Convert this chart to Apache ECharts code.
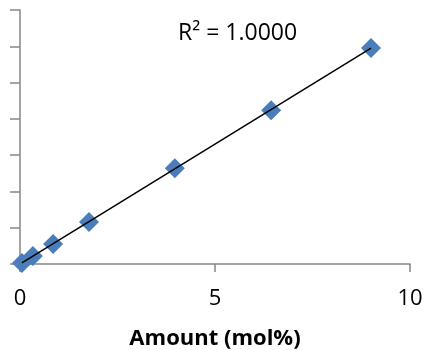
<!DOCTYPE html>
<html><head><meta charset="utf-8">
<script src="https://cdn.jsdelivr.net/npm/echarts@6/dist/echarts.min.js"></script>
<style>html,body{margin:0;padding:0;background:#fff}#c{width:424px;height:350px}</style>
</head><body><div id="c"></div>
<script>
var amounts = [0.05, 0.33, 0.85, 1.77, 3.97, 6.44, 9.0];
var responses = [0.03, 0.22, 0.55, 1.16, 2.64, 4.24, 5.95];
var xTickLabels = ['0', '5', '10'];
var rSquaredLabel = 'R² = 1.0000';
var xTitle = 'Amount (mol%)';

// least-squares trend line from the data
var n = amounts.length, sx = 0, sy = 0, sxx = 0, sxy = 0;
for (var i = 0; i < n; i++) { sx += amounts[i]; sy += responses[i]; sxx += amounts[i]*amounts[i]; sxy += amounts[i]*responses[i]; }
var slope = (n*sxy - sx*sy) / (n*sxx - sx*sx);
var icpt = (sy - slope*sx) / n;
var xMin = Math.min.apply(null, amounts), xMax = Math.max.apply(null, amounts);
var trend = [[xMin, icpt + slope*xMin], [xMax, icpt + slope*xMax]];

var chart = echarts.init(document.getElementById('c'));
chart.setOption({
  animation: false,
  grid: {left: 20, right: 14, top: 10, bottom: 86, containLabel: false, outerBoundsMode: 'none'},
  xAxis: {
    type: 'value', min: 0, max: 10, interval: 5,
    axisLine: {lineStyle: {color: '#868686', width: 1.5}},
    axisTick: {show: true, length: 8, lineStyle: {color: '#868686', width: 1.5}},
    splitLine: {show: false},
    axisLabel: {color: '#000', fontSize: 22, fontFamily: 'Open Sans', margin: 24,
      formatter: function (v) { return xTickLabels[Math.round(v/5)]; }},
    name: xTitle, nameLocation: 'middle', nameGap: 64,
    nameTextStyle: {color: '#000', fontSize: 22, fontWeight: 'bold', fontFamily: 'Open Sans'}
  },
  yAxis: {
    type: 'value', min: 0, max: 7, interval: 1,
    axisLine: {show: true, lineStyle: {color: '#868686', width: 1.5}},
    axisTick: {show: true, length: 10, lineStyle: {color: '#868686', width: 1.5}},
    axisLabel: {show: false},
    splitLine: {show: false}
  },
  graphic: [{type: 'text', left: 178, top: 22, style: {text: rSquaredLabel, fontSize: 23, fontFamily: 'Open Sans', fill: '#000'}}],
  series: [
    {type: 'scatter', data: amounts.map(function (x, i) { return [x, responses[i]]; }),
     symbol: 'diamond', symbolSize: 20, itemStyle: {color: '#4a7ebb', opacity: 1}, z: 2},
    {type: 'line', data: trend, symbol: 'none', lineStyle: {color: '#000', width: 1.5}, z: 3}
  ]
});
</script></body></html>
